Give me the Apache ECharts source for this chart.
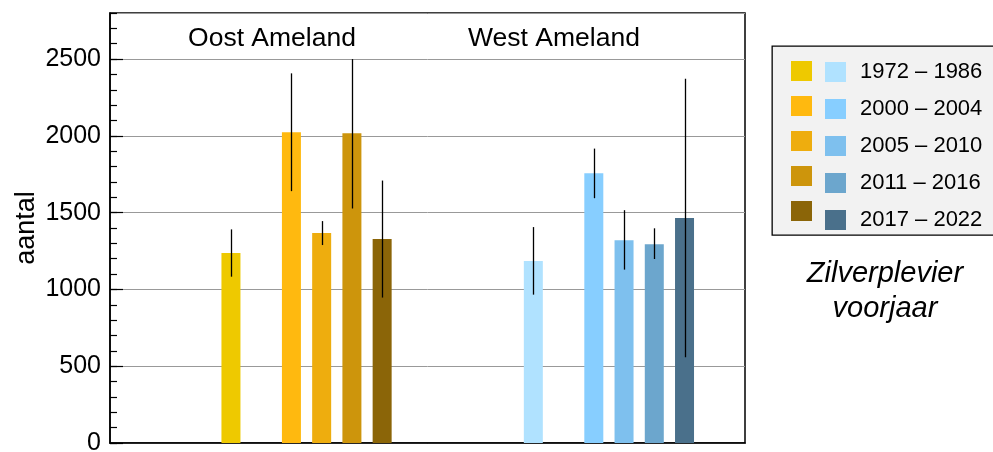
<!DOCTYPE html>
<html>
<head>
<meta charset="utf-8">
<script src="https://cdn.jsdelivr.net/npm/echarts@6/dist/echarts.min.js"></script>
<style>
  html, body { margin: 0; padding: 0; background: #fff; }
  #chart { width: 993px; height: 452px; }
</style>
</head>
<body>
<div id="chart"></div>
<script>
// ---- data ----
const groups = ['Oost Ameland', 'West Ameland'];
const periods = ['1972 – 1986', '2000 – 2004', '2005 – 2010', '2011 – 2016', '2017 – 2022'];
const oostMean = [1237, 2023, 1367, 2017, 1328];
const oostLow  = [1083, 1640, 1289, 1527, 947];
const oostHigh = [1391, 2407, 1445, 2500, 1709];
const westMean = [1185, 1757, 1321, 1295, 1465];
const westLow  = [966, 1594, 1129, 1198, 559];
const westHigh = [1406, 1917, 1516, 1398, 2372];
const yTicks = [0, 500, 1000, 1500, 2000, 2500];
const speciesLabel = 'Zilverplevier\nvoorjaar';
const yName = 'aantal';

// ---- styles ----
const oostColors = ['#EEC900', '#FFB90F', '#EEAD0E', '#CD950C', '#8B6508'];
const westColors = ['#B0E2FF', '#87CEFF', '#7EC0EE', '#6CA6CD', '#4A708B'];
const FONT = 'Liberation Sans';

// ---- layout (slots on a category axis) ----
const nSlots = 22;
const groupStart = [4, 14];
function slotOf(g, i) { return groupStart[g] + (i === 0 ? 0 : i + 1); }
const slotCats = Array.from({ length: nSlots }, (_, k) => 's' + k);

const means = [oostMean, westMean];
const lows = [oostLow, westLow];
const highs = [oostHigh, westHigh];
const colors = [oostColors, westColors];

const barSeries = periods.map((p, i) => {
  const data = Array.from({ length: nSlots }, () => '-');
  for (let g = 0; g < 2; g++) {
    data[slotOf(g, i)] = { value: means[g][i], itemStyle: { color: colors[g][i] } };
  }
  return {
    type: 'bar', name: p, data, barWidth: 19, barGap: '-100%',
    xAxisIndex: 0, yAxisIndex: 1, z: 2
  };
});

const errData = [];
for (let g = 0; g < 2; g++) {
  for (let i = 0; i < periods.length; i++) {
    errData.push([slotOf(g, i), lows[g][i], highs[g][i]]);
  }
}

const errSeries = {
  type: 'custom', name: 'err', xAxisIndex: 0, yAxisIndex: 1, z: 5,
  data: errData,
  encode: { x: 0, y: [1, 2] },
  renderItem: (params, api) => {
    const x = api.value(0);
    const lo = api.coord([x, api.value(1)]);
    const hi = api.coord([x, api.value(2)]);
    return {
      type: 'line',
      shape: { x1: Math.round(lo[0]) + 0.5, y1: lo[1], x2: Math.round(hi[0]) + 0.5, y2: hi[1] },
      style: { stroke: '#000', lineWidth: 1.3 }
    };
  }
};

const chart = echarts.init(document.getElementById('chart'), null, { renderer: 'canvas' });

const legendCommon = {
  orient: 'vertical', top: 61, itemWidth: 21, itemHeight: 20, itemGap: 15,
  icon: 'rect', selectedMode: false, padding: 0,
  textStyle: { fontFamily: FONT, fontSize: 22, color: '#000', lineHeight: 20 },
  z: 10
};

chart.setOption({
  animation: false,
  backgroundColor: '#fff',
  grid: {
    left: 110, right: 248, top: 13, bottom: 9, outerBoundsMode: 'none',
    show: true, borderColor: '#000', borderWidth: 1.5, backgroundColor: 'transparent'
  },
  xAxis: [{
    type: 'category', data: slotCats, boundaryGap: false,
    axisLine: { show: true, lineStyle: { color: '#000', width: 1.5 } },
    axisTick: { show: false }, axisLabel: { show: false }, splitLine: { show: false }
  }],
  yAxis: [
    {
      type: 'value', min: 0, max: 2800, interval: 100, position: 'left',
      axisLine: { show: false },
      axisTick: { show: true, inside: true, length: 7, lineStyle: { color: '#000', width: 1.2 } },
      axisLabel: { show: false }, splitLine: { show: false }
    },
    {
      type: 'value', min: 0, max: 2800, interval: 500, position: 'left',
      axisLine: { show: true, lineStyle: { color: '#000', width: 1.5 } },
      axisTick: { show: true, inside: true, length: 13, lineStyle: { color: '#000', width: 1.2 } },
      axisLabel: {
        margin: 9, fontFamily: FONT, fontSize: 25, color: '#000', showMaxLabel: false,
        formatter: v => (yTicks.indexOf(v) >= 0 ? String(v) : '')
      },
      splitLine: { show: true, lineStyle: { color: '#999', width: 1 } }
    }
  ],
  legend: [
    Object.assign({}, legendCommon, {
      left: 791,
      data: periods.map((p, i) => ({ name: p, itemStyle: { color: oostColors[i], borderWidth: 0 } })),
      formatter: () => ''
    }),
    Object.assign({}, legendCommon, {
      left: 825,
      textStyle: { fontFamily: FONT, fontSize: 22, color: '#000', lineHeight: 20, padding: [0, 0, 0, 9] },
      data: periods.map((p, i) => ({ name: p, itemStyle: { color: westColors[i], borderWidth: 0 } })),
      formatter: n => n
    })
  ],
  graphic: [
    {
      type: 'rect', z: 0, left: 771.5, top: 45.5,
      shape: { width: 240, height: 189 },
      style: { fill: '#f2f2f2', stroke: '#000', lineWidth: 1.3 }
    },
    {
      type: 'text', z: 3, x: 272, y: 39,
      style: { text: groups[0], font: '26.5px "' + FONT + '"', fill: '#000', align: 'center', verticalAlign: 'middle' }
    },
    {
      type: 'text', z: 3, x: 554, y: 39,
      style: { text: groups[1], font: '26.5px "' + FONT + '"', fill: '#000', align: 'center', verticalAlign: 'middle' }
    },
    {
      type: 'text', z: 3, x: 27, y: 228, rotation: Math.PI / 2,
      style: { text: yName, font: '27px "' + FONT + '"', fill: '#000', align: 'center', verticalAlign: 'middle' }
    },
    {
      type: 'text', z: 3, x: 885, y: 291,
      style: {
        text: speciesLabel, font: 'italic 29px "' + FONT + '"', fill: '#000',
        align: 'center', verticalAlign: 'middle', lineHeight: 35
      }
    }
  ],
  series: barSeries.concat([errSeries])
});
</script>
</body>
</html>
